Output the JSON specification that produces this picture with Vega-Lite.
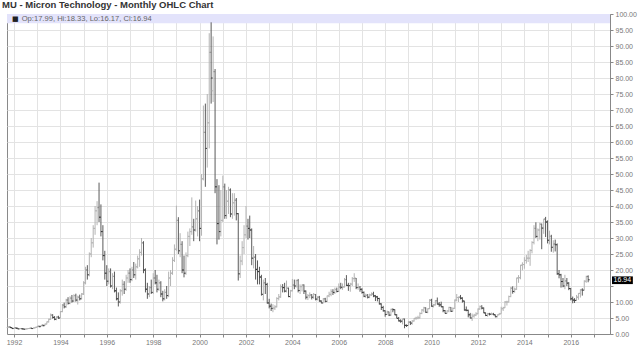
{
"$schema":"https://vega.github.io/schema/vega-lite/v6.json",
"width":603,"height":320,
"autosize":{"type":"none"},
"padding":{"left":7,"top":14,"right":30,"bottom":29},
"background":"white",
"config":{"view":{"stroke":"#8a8a8a","strokeWidth":1},"font":"Liberation Sans",
 "axisX":{"grid":true,"gridColor":"#e3e3e3","domainColor":"#888888","tickColor":"#888888","tickSize":3,"labelFontSize":7,"labelColor":"#777777","labelPadding":1,"title":null,"labelFont":"Liberation Sans","labelFlush":false,"labelOverlap":false},
 "axisY":{"grid":true,"gridColor":"#e3e3e3","domainColor":"#888888","tickColor":"#888888","tickSize":3,"labelFontSize":7,"labelColor":"#777777","labelPadding":2,"title":null,"labelFont":"Liberation Sans","labelOverlap":false}},
"title":{"text":"MU - Micron Technology - Monthly OHLC Chart","anchor":"start","frame":"group","dx":-5,"offset":1,"fontSize":9.5,"fontWeight":"bold","color":"#333333","font":"Liberation Sans"},
"data":{"values":[
{"d":"1991-10","o":2.0,"h":2.3,"l":1.9,"c":2.2},{"d":"1991-11","o":2.2,"h":2.4,"l":1.9,"c":2.0},{"d":"1991-12","o":2.0,"h":2.1,"l":1.6,"c":1.7},
{"d":"1992-01","o":1.7,"h":2.0,"l":1.6,"c":1.9},{"d":"1992-02","o":1.9,"h":2.1,"l":1.7,"c":1.8},{"d":"1992-03","o":1.8,"h":1.9,"l":1.5,"c":1.6},{"d":"1992-04","o":1.6,"h":1.8,"l":1.5,"c":1.7},{"d":"1992-05","o":1.7,"h":1.8,"l":1.5,"c":1.6},{"d":"1992-06","o":1.6,"h":1.7,"l":1.4,"c":1.5},{"d":"1992-07","o":1.5,"h":1.7,"l":1.4,"c":1.6},{"d":"1992-08","o":1.6,"h":1.8,"l":1.5,"c":1.7},{"d":"1992-09","o":1.7,"h":1.9,"l":1.6,"c":1.8},{"d":"1992-10","o":1.8,"h":2.0,"l":1.6,"c":1.7},{"d":"1992-11","o":1.7,"h":2.0,"l":1.6,"c":1.9},{"d":"1992-12","o":1.9,"h":2.2,"l":1.8,"c":2.1},
{"d":"1993-01","o":2.1,"h":2.5,"l":2.0,"c":2.4},{"d":"1993-02","o":2.4,"h":2.6,"l":2.1,"c":2.3},{"d":"1993-03","o":2.3,"h":2.8,"l":2.2,"c":2.7},{"d":"1993-04","o":2.7,"h":3.0,"l":2.4,"c":2.6},{"d":"1993-05","o":2.6,"h":3.2,"l":2.5,"c":3.1},{"d":"1993-06","o":3.1,"h":3.9,"l":3.0,"c":3.8},{"d":"1993-07","o":3.8,"h":4.8,"l":3.6,"c":4.6},{"d":"1993-08","o":4.6,"h":6.4,"l":4.4,"c":5.9},{"d":"1993-09","o":5.9,"h":6.2,"l":4.8,"c":5.2},{"d":"1993-10","o":5.2,"h":5.6,"l":4.3,"c":4.6},{"d":"1993-11","o":4.6,"h":5.5,"l":4.3,"c":5.3},{"d":"1993-12","o":5.3,"h":5.7,"l":4.7,"c":5.0},
{"d":"1994-01","o":5.0,"h":7.2,"l":4.9,"c":7.0},{"d":"1994-02","o":7.0,"h":9.4,"l":6.8,"c":9.0},{"d":"1994-03","o":9.0,"h":9.8,"l":8.0,"c":8.5},{"d":"1994-04","o":8.5,"h":11.0,"l":8.2,"c":10.6},{"d":"1994-05","o":10.6,"h":11.5,"l":9.2,"c":9.6},{"d":"1994-06","o":9.6,"h":11.8,"l":9.3,"c":11.2},{"d":"1994-07","o":11.2,"h":12.2,"l":9.8,"c":10.3},{"d":"1994-08","o":10.3,"h":12.4,"l":10.0,"c":12.0},{"d":"1994-09","o":12.0,"h":12.6,"l":10.1,"c":10.6},{"d":"1994-10","o":10.6,"h":12.0,"l":9.2,"c":11.5},{"d":"1994-11","o":11.5,"h":12.3,"l":10.5,"c":11.0},{"d":"1994-12","o":11.0,"h":12.8,"l":10.8,"c":12.5},
{"d":"1995-01","o":12.5,"h":16.5,"l":12.2,"c":16.0},{"d":"1995-02","o":16.0,"h":21.0,"l":15.5,"c":20.0},{"d":"1995-03","o":20.0,"h":21.5,"l":17.0,"c":18.5},{"d":"1995-04","o":18.5,"h":25.5,"l":18.0,"c":25.0},{"d":"1995-05","o":25.0,"h":30.0,"l":24.0,"c":28.5},{"d":"1995-06","o":28.5,"h":34.0,"l":27.0,"c":33.0},{"d":"1995-07","o":33.0,"h":40.0,"l":31.0,"c":38.5},{"d":"1995-08","o":38.5,"h":41.5,"l":34.0,"c":39.5},{"d":"1995-09","o":39.5,"h":47.3,"l":35.0,"c":36.5},{"d":"1995-10","o":36.5,"h":40.5,"l":30.5,"c":32.0},{"d":"1995-11","o":32.0,"h":34.0,"l":23.0,"c":24.5},{"d":"1995-12","o":24.5,"h":26.0,"l":17.0,"c":19.0},
{"d":"1996-01","o":19.0,"h":21.5,"l":15.0,"c":16.5},{"d":"1996-02","o":16.5,"h":20.5,"l":15.5,"c":19.5},{"d":"1996-03","o":19.5,"h":20.5,"l":14.5,"c":15.0},{"d":"1996-04","o":15.0,"h":19.0,"l":14.0,"c":18.0},{"d":"1996-05","o":18.0,"h":19.5,"l":13.0,"c":13.5},{"d":"1996-06","o":13.5,"h":14.5,"l":10.5,"c":11.0},{"d":"1996-07","o":11.0,"h":13.0,"l":8.6,"c":10.0},{"d":"1996-08","o":10.0,"h":14.0,"l":9.5,"c":13.5},{"d":"1996-09","o":13.5,"h":17.0,"l":12.0,"c":15.5},{"d":"1996-10","o":15.5,"h":16.5,"l":12.5,"c":14.0},{"d":"1996-11","o":14.0,"h":18.5,"l":13.5,"c":17.5},{"d":"1996-12","o":17.5,"h":20.0,"l":16.0,"c":19.0},
{"d":"1997-01","o":19.0,"h":20.5,"l":16.0,"c":17.0},{"d":"1997-02","o":17.0,"h":21.0,"l":16.5,"c":20.0},{"d":"1997-03","o":20.0,"h":22.5,"l":17.5,"c":18.5},{"d":"1997-04","o":18.5,"h":22.0,"l":17.0,"c":21.0},{"d":"1997-05","o":21.0,"h":24.5,"l":20.5,"c":23.5},{"d":"1997-06","o":23.5,"h":26.5,"l":21.0,"c":25.5},{"d":"1997-07","o":25.5,"h":30.0,"l":24.5,"c":28.5},{"d":"1997-08","o":28.5,"h":29.0,"l":19.0,"c":20.0},{"d":"1997-09","o":20.0,"h":20.5,"l":13.0,"c":14.0},{"d":"1997-10","o":14.0,"h":16.0,"l":11.0,"c":12.5},{"d":"1997-11","o":12.5,"h":15.0,"l":11.5,"c":14.5},{"d":"1997-12","o":14.5,"h":17.0,"l":12.5,"c":13.0},
{"d":"1998-01","o":13.0,"h":19.0,"l":12.5,"c":17.5},{"d":"1998-02","o":17.5,"h":20.0,"l":15.5,"c":16.0},{"d":"1998-03","o":16.0,"h":18.5,"l":13.0,"c":14.0},{"d":"1998-04","o":14.0,"h":17.0,"l":13.5,"c":16.0},{"d":"1998-05","o":16.0,"h":16.5,"l":11.5,"c":12.5},{"d":"1998-06","o":12.5,"h":13.5,"l":10.2,"c":11.0},{"d":"1998-07","o":11.0,"h":14.0,"l":10.5,"c":13.0},{"d":"1998-08","o":13.0,"h":15.0,"l":11.0,"c":12.0},{"d":"1998-09","o":12.0,"h":19.5,"l":11.5,"c":17.5},{"d":"1998-10","o":17.5,"h":20.0,"l":15.0,"c":19.0},{"d":"1998-11","o":19.0,"h":24.0,"l":18.5,"c":23.0},{"d":"1998-12","o":23.0,"h":28.0,"l":22.5,"c":26.5},
{"d":"1999-01","o":26.5,"h":40.1,"l":26.0,"c":35.5},{"d":"1999-02","o":35.5,"h":36.5,"l":25.0,"c":26.0},{"d":"1999-03","o":26.0,"h":31.5,"l":24.0,"c":28.0},{"d":"1999-04","o":28.0,"h":29.0,"l":19.0,"c":20.0},{"d":"1999-05","o":20.0,"h":24.5,"l":17.7,"c":19.0},{"d":"1999-06","o":19.0,"h":25.5,"l":18.5,"c":24.5},{"d":"1999-07","o":24.5,"h":32.0,"l":24.0,"c":30.5},{"d":"1999-08","o":30.5,"h":33.0,"l":27.5,"c":32.0},{"d":"1999-09","o":32.0,"h":42.7,"l":31.0,"c":33.5},{"d":"1999-10","o":33.5,"h":36.0,"l":29.0,"c":32.5},{"d":"1999-11","o":32.5,"h":41.7,"l":32.0,"c":36.0},{"d":"1999-12","o":36.0,"h":40.0,"l":30.5,"c":38.5},
{"d":"2000-01","o":38.5,"h":42.0,"l":29.0,"c":33.0},{"d":"2000-02","o":33.0,"h":50.0,"l":30.7,"c":48.5},{"d":"2000-03","o":48.5,"h":71.4,"l":48.0,"c":63.0},{"d":"2000-04","o":63.0,"h":72.0,"l":46.0,"c":58.0},{"d":"2000-05","o":58.0,"h":75.0,"l":52.0,"c":66.0},{"d":"2000-06","o":66.0,"h":94.0,"l":58.0,"c":88.0},{"d":"2000-07","o":88.0,"h":97.4,"l":72.0,"c":80.0},{"d":"2000-08","o":76.0,"h":93.0,"l":72.5,"c":82.0},{"d":"2000-09","o":82.0,"h":82.8,"l":44.0,"c":46.0},{"d":"2000-10","o":46.0,"h":48.4,"l":28.0,"c":34.5},{"d":"2000-11","o":34.5,"h":46.5,"l":29.5,"c":32.0},{"d":"2000-12","o":32.0,"h":45.0,"l":30.5,"c":35.5},
{"d":"2001-01","o":35.5,"h":49.5,"l":35.0,"c":46.0},{"d":"2001-02","o":46.0,"h":47.0,"l":36.0,"c":37.0},{"d":"2001-03","o":37.0,"h":45.0,"l":36.0,"c":41.5},{"d":"2001-04","o":41.5,"h":46.0,"l":37.5,"c":45.0},{"d":"2001-05","o":45.0,"h":45.5,"l":36.5,"c":37.5},{"d":"2001-06","o":37.5,"h":44.0,"l":36.0,"c":41.0},{"d":"2001-07","o":41.0,"h":44.0,"l":37.0,"c":41.8},{"d":"2001-08","o":41.8,"h":42.5,"l":35.5,"c":37.6},{"d":"2001-09","o":37.6,"h":37.8,"l":16.7,"c":18.8},{"d":"2001-10","o":18.8,"h":24.5,"l":17.5,"c":22.8},{"d":"2001-11","o":22.8,"h":29.0,"l":21.5,"c":27.0},{"d":"2001-12","o":27.0,"h":34.0,"l":25.0,"c":31.0},
{"d":"2002-01","o":31.0,"h":40.0,"l":30.0,"c":33.7},{"d":"2002-02","o":33.7,"h":36.0,"l":29.5,"c":33.0},{"d":"2002-03","o":33.0,"h":37.0,"l":30.0,"c":32.5},{"d":"2002-04","o":32.5,"h":33.0,"l":21.5,"c":23.7},{"d":"2002-05","o":23.7,"h":27.5,"l":20.5,"c":24.0},{"d":"2002-06","o":24.0,"h":25.0,"l":17.0,"c":20.2},{"d":"2002-07","o":20.2,"h":23.0,"l":15.5,"c":19.5},{"d":"2002-08","o":19.5,"h":21.0,"l":15.5,"c":17.8},{"d":"2002-09","o":17.8,"h":18.5,"l":12.0,"c":12.4},{"d":"2002-10","o":12.4,"h":17.0,"l":10.5,"c":16.0},{"d":"2002-11","o":16.0,"h":17.5,"l":12.5,"c":15.5},{"d":"2002-12","o":15.5,"h":16.0,"l":9.5,"c":9.7},
{"d":"2003-01","o":9.7,"h":11.0,"l":8.0,"c":8.7},{"d":"2003-02","o":8.7,"h":9.5,"l":7.2,"c":8.0},{"d":"2003-03","o":8.0,"h":9.3,"l":6.8,"c":8.1},{"d":"2003-04","o":8.1,"h":9.0,"l":7.5,"c":8.5},{"d":"2003-05","o":8.5,"h":11.5,"l":8.3,"c":11.1},{"d":"2003-06","o":11.1,"h":12.5,"l":10.5,"c":11.6},{"d":"2003-07","o":11.6,"h":15.5,"l":11.3,"c":14.8},{"d":"2003-08","o":14.8,"h":15.6,"l":13.0,"c":14.5},{"d":"2003-09","o":14.5,"h":16.0,"l":13.0,"c":13.4},{"d":"2003-10","o":13.4,"h":16.7,"l":13.0,"c":14.3},{"d":"2003-11","o":14.3,"h":14.5,"l":11.5,"c":11.7},{"d":"2003-12","o":11.7,"h":13.8,"l":11.3,"c":13.5},
{"d":"2004-01","o":13.5,"h":17.2,"l":13.3,"c":15.3},{"d":"2004-02","o":15.3,"h":17.0,"l":14.0,"c":15.0},{"d":"2004-03","o":15.0,"h":17.0,"l":14.5,"c":16.7},{"d":"2004-04","o":16.7,"h":17.2,"l":13.0,"c":13.6},{"d":"2004-05","o":13.6,"h":15.5,"l":12.5,"c":14.8},{"d":"2004-06","o":14.8,"h":15.5,"l":13.3,"c":15.3},{"d":"2004-07","o":15.3,"h":15.5,"l":12.5,"c":13.4},{"d":"2004-08","o":13.4,"h":13.6,"l":10.8,"c":11.5},{"d":"2004-09","o":11.5,"h":12.5,"l":10.6,"c":12.0},{"d":"2004-10","o":12.0,"h":13.0,"l":11.2,"c":12.2},{"d":"2004-11","o":12.2,"h":12.5,"l":10.8,"c":11.5},{"d":"2004-12","o":11.5,"h":12.8,"l":11.0,"c":12.35},
{"d":"2005-01","o":12.35,"h":12.5,"l":10.5,"c":10.9},{"d":"2005-02","o":10.9,"h":11.8,"l":10.5,"c":11.5},{"d":"2005-03","o":11.5,"h":11.9,"l":10.1,"c":10.3},{"d":"2005-04","o":10.3,"h":10.5,"l":9.6,"c":9.7},{"d":"2005-05","o":9.7,"h":11.2,"l":9.6,"c":11.0},{"d":"2005-06","o":11.0,"h":11.3,"l":9.9,"c":10.2},{"d":"2005-07","o":10.2,"h":12.0,"l":10.0,"c":11.9},{"d":"2005-08","o":11.9,"h":13.2,"l":11.5,"c":12.4},{"d":"2005-09","o":12.4,"h":14.0,"l":11.8,"c":13.3},{"d":"2005-10","o":13.3,"h":14.0,"l":12.2,"c":13.0},{"d":"2005-11","o":13.0,"h":14.5,"l":12.5,"c":13.9},{"d":"2005-12","o":13.9,"h":14.5,"l":13.0,"c":13.3},
{"d":"2006-01","o":13.3,"h":15.8,"l":13.2,"c":14.7},{"d":"2006-02","o":14.7,"h":16.0,"l":14.0,"c":14.6},{"d":"2006-03","o":14.6,"h":15.8,"l":13.8,"c":14.7},{"d":"2006-04","o":14.7,"h":17.5,"l":14.5,"c":17.0},{"d":"2006-05","o":17.0,"h":18.4,"l":15.0,"c":15.2},{"d":"2006-06","o":15.2,"h":16.0,"l":13.5,"c":15.1},{"d":"2006-07","o":15.1,"h":16.0,"l":13.2,"c":15.6},{"d":"2006-08","o":15.6,"h":17.8,"l":15.0,"c":17.3},{"d":"2006-09","o":17.3,"h":19.0,"l":16.3,"c":17.4},{"d":"2006-10","o":17.4,"h":17.5,"l":14.0,"c":14.5},{"d":"2006-11","o":14.5,"h":15.8,"l":13.8,"c":14.6},{"d":"2006-12","o":14.6,"h":15.0,"l":13.2,"c":13.96},
{"d":"2007-01","o":13.96,"h":14.3,"l":12.6,"c":13.0},{"d":"2007-02","o":13.0,"h":13.3,"l":11.5,"c":11.8},{"d":"2007-03","o":11.8,"h":12.6,"l":11.3,"c":12.1},{"d":"2007-04","o":12.1,"h":12.5,"l":11.1,"c":11.5},{"d":"2007-05","o":11.5,"h":12.6,"l":11.2,"c":12.2},{"d":"2007-06","o":12.2,"h":13.0,"l":11.9,"c":12.5},{"d":"2007-07","o":12.5,"h":13.2,"l":11.5,"c":11.9},{"d":"2007-08","o":11.9,"h":12.2,"l":10.3,"c":11.6},{"d":"2007-09","o":11.6,"h":11.9,"l":10.2,"c":11.1},{"d":"2007-10","o":11.1,"h":11.3,"l":9.2,"c":9.4},{"d":"2007-11","o":9.4,"h":9.6,"l":7.5,"c":8.3},{"d":"2007-12","o":8.3,"h":8.8,"l":7.0,"c":7.25},
{"d":"2008-01","o":7.25,"h":7.4,"l":5.4,"c":6.1},{"d":"2008-02","o":6.1,"h":7.3,"l":6.0,"c":6.9},{"d":"2008-03","o":6.9,"h":7.0,"l":5.6,"c":5.9},{"d":"2008-04","o":5.9,"h":7.9,"l":5.7,"c":7.7},{"d":"2008-05","o":7.7,"h":8.0,"l":6.8,"c":7.6},{"d":"2008-06","o":7.6,"h":7.7,"l":5.9,"c":6.0},{"d":"2008-07","o":6.0,"h":6.2,"l":4.9,"c":4.9},{"d":"2008-08","o":4.9,"h":5.3,"l":3.9,"c":4.1},{"d":"2008-09","o":4.1,"h":4.6,"l":3.5,"c":4.0},{"d":"2008-10","o":4.0,"h":4.8,"l":3.0,"c":4.7},{"d":"2008-11","o":4.7,"h":4.8,"l":1.8,"c":2.7},{"d":"2008-12","o":2.7,"h":3.0,"l":2.2,"c":2.64},
{"d":"2009-01","o":2.64,"h":4.0,"l":2.6,"c":3.7},{"d":"2009-02","o":3.7,"h":4.0,"l":2.8,"c":3.4},{"d":"2009-03","o":3.4,"h":4.3,"l":2.9,"c":4.06},{"d":"2009-04","o":4.06,"h":5.0,"l":3.9,"c":4.9},{"d":"2009-05","o":4.9,"h":5.4,"l":4.4,"c":5.0},{"d":"2009-06","o":5.0,"h":5.7,"l":4.6,"c":5.06},{"d":"2009-07","o":5.06,"h":6.8,"l":4.8,"c":6.4},{"d":"2009-08","o":6.4,"h":7.8,"l":6.2,"c":7.5},{"d":"2009-09","o":7.5,"h":8.5,"l":6.8,"c":8.2},{"d":"2009-10","o":8.2,"h":8.3,"l":6.6,"c":6.8},{"d":"2009-11","o":6.8,"h":8.0,"l":6.5,"c":7.9},{"d":"2009-12","o":7.9,"h":10.9,"l":7.8,"c":10.56},
{"d":"2010-01","o":10.56,"h":11.0,"l":8.5,"c":8.7},{"d":"2010-02","o":8.7,"h":9.4,"l":8.3,"c":9.1},{"d":"2010-03","o":9.1,"h":10.6,"l":8.9,"c":10.4},{"d":"2010-04","o":10.4,"h":11.4,"l":9.2,"c":9.35},{"d":"2010-05","o":9.35,"h":10.0,"l":8.5,"c":9.1},{"d":"2010-06","o":9.1,"h":10.1,"l":8.4,"c":8.5},{"d":"2010-07","o":8.5,"h":8.7,"l":6.8,"c":7.3},{"d":"2010-08","o":7.3,"h":7.5,"l":6.4,"c":6.45},{"d":"2010-09","o":6.45,"h":7.4,"l":6.4,"c":7.2},{"d":"2010-10","o":7.2,"h":8.5,"l":6.8,"c":8.3},{"d":"2010-11","o":8.3,"h":8.4,"l":6.9,"c":7.1},{"d":"2010-12","o":7.1,"h":8.3,"l":7.0,"c":8.0},
{"d":"2011-01","o":8.0,"h":10.8,"l":7.9,"c":10.6},{"d":"2011-02","o":10.6,"h":12.5,"l":10.2,"c":11.4},{"d":"2011-03","o":11.4,"h":11.7,"l":10.0,"c":11.5},{"d":"2011-04","o":11.5,"h":12.2,"l":10.8,"c":11.2},{"d":"2011-05","o":11.2,"h":11.5,"l":9.8,"c":10.3},{"d":"2011-06","o":10.3,"h":10.4,"l":7.3,"c":7.5},{"d":"2011-07","o":7.5,"h":8.6,"l":7.1,"c":7.4},{"d":"2011-08","o":7.4,"h":7.6,"l":5.2,"c":6.0},{"d":"2011-09","o":6.0,"h":6.6,"l":4.9,"c":5.0},{"d":"2011-10","o":5.0,"h":6.4,"l":4.1,"c":5.6},{"d":"2011-11","o":5.6,"h":6.3,"l":5.1,"c":5.9},{"d":"2011-12","o":5.9,"h":6.8,"l":5.6,"c":6.3},
{"d":"2012-01","o":6.3,"h":8.0,"l":6.2,"c":7.8},{"d":"2012-02","o":7.8,"h":8.9,"l":7.6,"c":8.6},{"d":"2012-03","o":8.6,"h":9.0,"l":7.7,"c":8.1},{"d":"2012-04","o":8.1,"h":8.3,"l":6.5,"c":6.6},{"d":"2012-05","o":6.6,"h":6.7,"l":5.6,"c":5.8},{"d":"2012-06","o":5.8,"h":6.6,"l":5.4,"c":6.3},{"d":"2012-07","o":6.3,"h":6.6,"l":5.8,"c":6.2},{"d":"2012-08","o":6.2,"h":6.7,"l":5.9,"c":6.2},{"d":"2012-09","o":6.2,"h":6.6,"l":5.9,"c":6.0},{"d":"2012-10","o":6.0,"h":6.1,"l":5.2,"c":5.4},{"d":"2012-11","o":5.4,"h":6.1,"l":5.2,"c":6.0},{"d":"2012-12","o":6.0,"h":6.6,"l":5.9,"c":6.3},
{"d":"2013-01","o":6.3,"h":8.5,"l":6.3,"c":7.9},{"d":"2013-02","o":7.9,"h":8.5,"l":7.2,"c":8.2},{"d":"2013-03","o":8.2,"h":10.3,"l":8.1,"c":10.0},{"d":"2013-04","o":10.0,"h":10.4,"l":8.9,"c":10.0},{"d":"2013-05","o":10.0,"h":12.0,"l":9.9,"c":11.7},{"d":"2013-06","o":11.7,"h":14.7,"l":11.5,"c":14.3},{"d":"2013-07","o":14.3,"h":14.9,"l":12.6,"c":13.3},{"d":"2013-08","o":13.3,"h":14.5,"l":12.9,"c":14.0},{"d":"2013-09","o":14.0,"h":17.6,"l":13.8,"c":17.5},{"d":"2013-10","o":17.5,"h":18.4,"l":16.0,"c":17.6},{"d":"2013-11","o":17.6,"h":21.6,"l":17.1,"c":21.5},{"d":"2013-12","o":21.5,"h":22.4,"l":19.9,"c":21.7},
{"d":"2014-01","o":21.7,"h":24.0,"l":20.4,"c":23.0},{"d":"2014-02","o":23.0,"h":24.7,"l":22.0,"c":23.7},{"d":"2014-03","o":23.7,"h":26.0,"l":22.5,"c":23.7},{"d":"2014-04","o":23.7,"h":26.5,"l":21.3,"c":26.1},{"d":"2014-05","o":26.1,"h":29.0,"l":25.2,"c":28.6},{"d":"2014-06","o":28.6,"h":34.0,"l":28.0,"c":33.0},{"d":"2014-07","o":33.0,"h":34.9,"l":30.0,"c":30.5},{"d":"2014-08","o":30.5,"h":33.0,"l":29.0,"c":32.5},{"d":"2014-09","o":32.5,"h":34.8,"l":29.5,"c":34.3},{"d":"2014-10","o":34.3,"h":34.5,"l":26.5,"c":33.1},{"d":"2014-11","o":33.1,"h":36.0,"l":31.3,"c":35.9},{"d":"2014-12","o":35.9,"h":36.6,"l":30.3,"c":35.0},
{"d":"2015-01","o":35.0,"h":35.5,"l":28.3,"c":29.3},{"d":"2015-02","o":29.3,"h":32.3,"l":28.0,"c":30.5},{"d":"2015-03","o":30.5,"h":31.0,"l":25.7,"c":27.1},{"d":"2015-04","o":27.1,"h":29.3,"l":25.4,"c":28.1},{"d":"2015-05","o":28.1,"h":29.5,"l":25.8,"c":27.9},{"d":"2015-06","o":27.9,"h":28.3,"l":18.5,"c":18.8},{"d":"2015-07","o":18.8,"h":20.0,"l":17.4,"c":18.5},{"d":"2015-08","o":18.5,"h":18.8,"l":14.5,"c":16.4},{"d":"2015-09","o":16.4,"h":17.5,"l":14.6,"c":15.0},{"d":"2015-10","o":15.0,"h":18.5,"l":14.0,"c":16.6},{"d":"2015-11","o":16.6,"h":17.5,"l":15.0,"c":15.9},{"d":"2015-12","o":15.9,"h":16.2,"l":13.7,"c":14.2},
{"d":"2016-01","o":14.2,"h":14.4,"l":10.5,"c":11.0},{"d":"2016-02","o":11.0,"h":11.7,"l":9.6,"c":10.6},{"d":"2016-03","o":10.6,"h":11.2,"l":9.7,"c":10.5},{"d":"2016-04","o":10.5,"h":12.2,"l":10.3,"c":11.5},{"d":"2016-05","o":11.5,"h":12.8,"l":10.7,"c":12.7},{"d":"2016-06","o":12.7,"h":14.0,"l":11.4,"c":13.8},{"d":"2016-07","o":13.8,"h":14.3,"l":12.0,"c":13.7},{"d":"2016-08","o":13.7,"h":16.8,"l":13.6,"c":16.5},{"d":"2016-09","o":16.5,"h":18.2,"l":16.0,"c":17.8},{"d":"2016-10","o":17.99,"h":18.33,"l":16.17,"c":16.94}
]},
"layer":[
{"data":{"values":[{}]},"mark":{"type":"rect","color":"#e3e3fb"},
 "encoding":{"y":{"datum":97.1,"type":"quantitative","scale":{"domain":[0,100],"nice":false,"zero":false},
   "axis":{"orient":"right","values":[0,5,10,15,20,25,30,35,40,45,50,55,60,65,70,75,80,85,90,95,100],"labelExpr":"datum.value == 15 ? '' : format(datum.value, '.2f')"}},"y2":{"datum":100}}},
{"mark":{"type":"rule","strokeWidth":1},
 "encoding":{"x":{"field":"d","type":"temporal","scale":{"domain":[{"year":1991,"month":9,"date":13},{"year":2017,"month":9,"date":10}]},
   "axis":{"values":[{"year":1992},{"year":1993},{"year":1994},{"year":1995},{"year":1996},{"year":1997},{"year":1998},{"year":1999},{"year":2000},{"year":2001},{"year":2002},{"year":2003},{"year":2004},{"year":2005},{"year":2006},{"year":2007},{"year":2008},{"year":2009},{"year":2010},{"year":2011},{"year":2012},{"year":2013},{"year":2014},{"year":2015},{"year":2016},{"year":2017}],"labelExpr":"year(datum.value) % 2 == 0 ? timeFormat(datum.value, '%Y') : ''"}},
  "y":{"field":"l","type":"quantitative","axis":{"orient":"right","values":[0,5,10,15,20,25,30,35,40,45,50,55,60,65,70,75,80,85,90,95,100],"labelExpr":"datum.value == 15 ? '' : format(datum.value, '.2f')"}},
  "y2":{"field":"h"},
  "color":{"condition":{"test":"datum.c >= datum.o","value":"#b3b3b3"},"value":"#5a5a5a"}}},
{"mark":{"type":"rule","strokeWidth":1,"xOffset":-1.5,"x2Offset":0},
 "encoding":{"x":{"field":"d","type":"temporal","axis":{"values":[{"year":1992},{"year":1993},{"year":1994},{"year":1995},{"year":1996},{"year":1997},{"year":1998},{"year":1999},{"year":2000},{"year":2001},{"year":2002},{"year":2003},{"year":2004},{"year":2005},{"year":2006},{"year":2007},{"year":2008},{"year":2009},{"year":2010},{"year":2011},{"year":2012},{"year":2013},{"year":2014},{"year":2015},{"year":2016},{"year":2017}],"labelExpr":"year(datum.value) % 2 == 0 ? timeFormat(datum.value, '%Y') : ''"}},"x2":{"field":"d"},
  "y":{"field":"o","type":"quantitative","axis":{"orient":"right","values":[0,5,10,15,20,25,30,35,40,45,50,55,60,65,70,75,80,85,90,95,100],"labelExpr":"datum.value == 15 ? '' : format(datum.value, '.2f')"}},
  "color":{"condition":{"test":"datum.c >= datum.o","value":"#b3b3b3"},"value":"#5a5a5a"}}},
{"mark":{"type":"rule","strokeWidth":1,"xOffset":0,"x2Offset":1.5},
 "encoding":{"x":{"field":"d","type":"temporal","axis":{"values":[{"year":1992},{"year":1993},{"year":1994},{"year":1995},{"year":1996},{"year":1997},{"year":1998},{"year":1999},{"year":2000},{"year":2001},{"year":2002},{"year":2003},{"year":2004},{"year":2005},{"year":2006},{"year":2007},{"year":2008},{"year":2009},{"year":2010},{"year":2011},{"year":2012},{"year":2013},{"year":2014},{"year":2015},{"year":2016},{"year":2017}],"labelExpr":"year(datum.value) % 2 == 0 ? timeFormat(datum.value, '%Y') : ''"}},"x2":{"field":"d"},
  "y":{"field":"c","type":"quantitative","axis":{"orient":"right","values":[0,5,10,15,20,25,30,35,40,45,50,55,60,65,70,75,80,85,90,95,100],"labelExpr":"datum.value == 15 ? '' : format(datum.value, '.2f')"}},
  "color":{"condition":{"test":"datum.c >= datum.o","value":"#b3b3b3"},"value":"#333333"}}},
{"data":{"values":[{"t":"■"}]},"mark":{"type":"text","align":"left","baseline":"middle","fontSize":7,"color":"#222222","font":"DejaVu Sans"},
 "encoding":{"x":{"datum":{"year":1991,"month":12,"date":1},"type":"temporal","axis":{"values":[{"year":1992},{"year":1993},{"year":1994},{"year":1995},{"year":1996},{"year":1997},{"year":1998},{"year":1999},{"year":2000},{"year":2001},{"year":2002},{"year":2003},{"year":2004},{"year":2005},{"year":2006},{"year":2007},{"year":2008},{"year":2009},{"year":2010},{"year":2011},{"year":2012},{"year":2013},{"year":2014},{"year":2015},{"year":2016},{"year":2017}],"labelExpr":"year(datum.value) % 2 == 0 ? timeFormat(datum.value, '%Y') : ''"}},
  "y":{"datum":98.4,"type":"quantitative","axis":{"orient":"right","values":[0,5,10,15,20,25,30,35,40,45,50,55,60,65,70,75,80,85,90,95,100],"labelExpr":"datum.value == 15 ? '' : format(datum.value, '.2f')"}},"text":{"field":"t"}}},
{"data":{"values":[{"t":"Op:17.99, Hi:18.33, Lo:16.17, Cl:16.94"}]},"mark":{"type":"text","align":"left","baseline":"middle","fontSize":7.6,"color":"#666666","font":"Liberation Sans"},
 "encoding":{"x":{"datum":{"year":1992,"month":5,"date":1},"type":"temporal","axis":{"values":[{"year":1992},{"year":1993},{"year":1994},{"year":1995},{"year":1996},{"year":1997},{"year":1998},{"year":1999},{"year":2000},{"year":2001},{"year":2002},{"year":2003},{"year":2004},{"year":2005},{"year":2006},{"year":2007},{"year":2008},{"year":2009},{"year":2010},{"year":2011},{"year":2012},{"year":2013},{"year":2014},{"year":2015},{"year":2016},{"year":2017}],"labelExpr":"year(datum.value) % 2 == 0 ? timeFormat(datum.value, '%Y') : ''"}},
  "y":{"datum":98.4,"type":"quantitative","axis":{"orient":"right","values":[0,5,10,15,20,25,30,35,40,45,50,55,60,65,70,75,80,85,90,95,100],"labelExpr":"datum.value == 15 ? '' : format(datum.value, '.2f')"}},"text":{"field":"t"}}},
{"data":{"values":[{}]},"mark":{"type":"rect","color":"#000000"},
 "encoding":{"x":{"datum":{"year":2017,"month":10,"date":11},"type":"temporal","axis":{"values":[{"year":1992},{"year":1993},{"year":1994},{"year":1995},{"year":1996},{"year":1997},{"year":1998},{"year":1999},{"year":2000},{"year":2001},{"year":2002},{"year":2003},{"year":2004},{"year":2005},{"year":2006},{"year":2007},{"year":2008},{"year":2009},{"year":2010},{"year":2011},{"year":2012},{"year":2013},{"year":2014},{"year":2015},{"year":2016},{"year":2017}],"labelExpr":"year(datum.value) % 2 == 0 ? timeFormat(datum.value, '%Y') : ''"}},"x2":{"datum":{"year":2018,"month":9,"date":5}},
  "y":{"datum":15.6,"type":"quantitative","axis":{"orient":"right","values":[0,5,10,15,20,25,30,35,40,45,50,55,60,65,70,75,80,85,90,95,100],"labelExpr":"datum.value == 15 ? '' : format(datum.value, '.2f')"}},"y2":{"datum":18.0}}},
{"data":{"values":[{"t":"16.94"}]},"mark":{"type":"text","align":"center","baseline":"middle","fontSize":7,"color":"#ffffff","font":"Liberation Sans"},
 "encoding":{"x":{"datum":{"year":2018,"month":3,"date":24},"type":"temporal","axis":{"values":[{"year":1992},{"year":1993},{"year":1994},{"year":1995},{"year":1996},{"year":1997},{"year":1998},{"year":1999},{"year":2000},{"year":2001},{"year":2002},{"year":2003},{"year":2004},{"year":2005},{"year":2006},{"year":2007},{"year":2008},{"year":2009},{"year":2010},{"year":2011},{"year":2012},{"year":2013},{"year":2014},{"year":2015},{"year":2016},{"year":2017}],"labelExpr":"year(datum.value) % 2 == 0 ? timeFormat(datum.value, '%Y') : ''"}},
  "y":{"datum":16.8,"type":"quantitative","axis":{"orient":"right","values":[0,5,10,15,20,25,30,35,40,45,50,55,60,65,70,75,80,85,90,95,100],"labelExpr":"datum.value == 15 ? '' : format(datum.value, '.2f')"}},"text":{"field":"t"}}}
]
}
